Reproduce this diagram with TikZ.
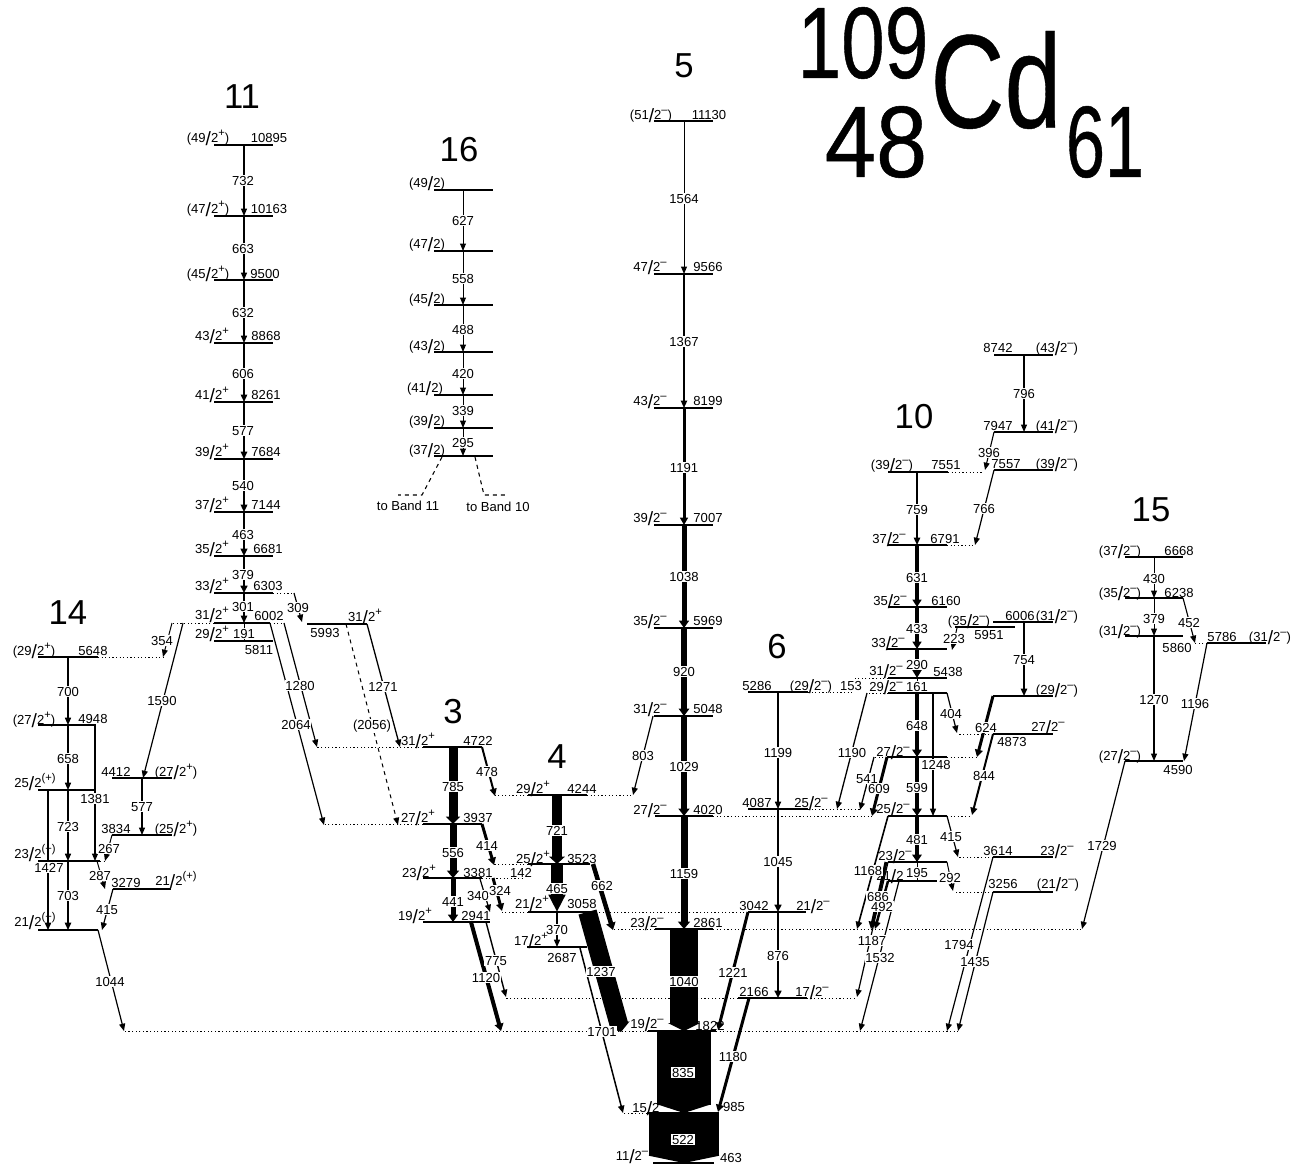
\documentclass[tikz,border=0pt]{standalone}
\usepackage{fontspec}
\setmainfont{Liberation Sans}
\usetikzlibrary{arrows.meta}
\pgfdeclarelayer{labs}\pgfsetlayers{main,labs}
\newcount\nn
\newcommand\sla{\raisebox{-0.27em}{\Large /}}
\newcommand\spr[1]{\raisebox{0.42em}{\fontsize{8.4}{9}\selectfont #1}}
\newcommand\Sp[2]{#1\sla 2\spr{#2}}
\newcommand\Pp[2]{(#1\sla 2\spr{#2})}
\newcommand\mn{--}
\tikzset{
 lvl/.style={line width=0.8pt},
 dotline/.style={line width=0.7pt,dash pattern=on 0.9pt off 1.8pt},
 ar/.style={line width=#1*0.75pt,-{Triangle[length=5.5pt,width=3.6pt 1]}},
 tline/.style={line width=#1*0.75pt},
 tt/.style={font=\fontsize{9.8}{10}\selectfont,inner sep=0pt,anchor=base},
 lab/.style={font=\fontsize{9.8}{10}\selectfont,inner sep=0.6pt,anchor=base,fill=white},
 bandno/.style={font=\fontsize{26}{28}\selectfont,inner sep=0pt},
}
% level: name x1 xc x2 y
\newcommand\lev[6][]{\coordinate (#2-l) at (#3,#6);\coordinate (#2-c) at (#4,#6);\coordinate (#2-r) at (#5,#6);\draw[lvl,#1] (#2-l)--(#2-r);}
\newcommand\pnt[3]{\coordinate (#1) at (#2,#3);}
\newcommand\ext[2]{\draw[dotline] (#1)--(#2);}
\newcommand\txt[3]{\global\advance\nn by 1 \node[tt] (t\the\nn) at (#1,#2+5) {#3};}
% transition: [extra] width from to label lx ly
\newcommand\tran[7][]{\draw[ar={#2},#1] (#3)--(#4);\global\advance\nn by 1 \begin{pgfonlayer}{labs}\node[lab] (t\the\nn) at (#6,#7+5) {#5};\end{pgfonlayer}}
\begin{document}
\begin{tikzpicture}[x=0.75pt,y=-0.75pt]
\useasboundingbox (0,0) rectangle (1301,1165);
% ---------- titles
\node[inner sep=0pt] (tA) at (863,43) {\scalebox{0.98}[1.27]{\fontsize{60}{64}\selectfont\addfontfeature{FakeBold=0.5}109}};
\node[inner sep=0pt] (tM) at (876,142) {\scalebox{1.15}[1.27]{\fontsize{60}{64}\selectfont\addfontfeature{FakeBold=0.5}48}};
\node[inner sep=0pt] (tC) at (996,80) {\scalebox{1}[1.3]{\fontsize{77}{80}\selectfont\addfontfeature{FakeBold=0.3}Cd}};
\node[inner sep=0pt] (tN) at (1105,142) {\scalebox{0.88}[1.27]{\fontsize{60}{64}\selectfont\addfontfeature{FakeBold=0.5}61}};
\node[bandno] (b11) at (242,97) {11};
\node[bandno] (b16) at (459,150) {16};
\node[bandno] (b5) at (684,66) {5};
\node[bandno] (b10) at (914,417) {10};
\node[bandno] (b15) at (1151,510) {15};
\node[bandno] (b14) at (68,613) {14};
\node[bandno] (b3) at (453,712) {3};
\node[bandno] (b4) at (557,757) {4};
\node[bandno] (b6) at (777,647) {6};
% ---------- levels
% band 11
\lev{a1}{214}{244}{273}{145}\lev{a2}{214}{244}{273}{216}\lev{a3}{214}{244}{273}{280}\lev{a4}{214}{244}{273}{343}
\lev{a5}{214}{244}{273}{402}\lev{a6}{214}{244}{273}{459}\lev{a7}{214}{244}{273}{512}\lev{a8}{214}{244}{273}{556}
\lev{a9}{214}{244}{273}{593}\lev{a10}{214}{244}{270}{623}\lev{a11}{214}{244}{273}{641}
\txt{208}{137}{\Pp{49}{+}}\txt{269}{137}{10895}
\txt{208}{208}{\Pp{47}{+}}\txt{269}{208}{10163}
\txt{208}{273}{\Pp{45}{+}}\txt{265}{273}{9500}
\txt{212}{335}{\Sp{43}{+}}\txt{266}{335}{8868}
\txt{212}{394}{\Sp{41}{+}}\txt{266}{394}{8261}
\txt{212}{451}{\Sp{39}{+}}\txt{266}{451}{7684}
\txt{212}{504}{\Sp{37}{+}}\txt{266}{504}{7144}
\txt{212}{548}{\Sp{35}{+}}\txt{268}{548}{6681}
\txt{212}{585}{\Sp{33}{+}}\txt{268}{585}{6303}
\txt{212}{614}{\Sp{31}{+}}\txt{269}{615}{6002}
\txt{212}{633}{\Sp{29}{+}}\txt{259}{649}{5811}
% side of band 11
\lev{s1}{307}{337}{367}{624}
\txt{365}{616}{\Sp{31}{+}}\txt{325}{632}{5993}
\pnt{p6303}{294}{593}\ext{a9-r}{p6303}
\pnt{p6002l}{172}{623}\pnt{p6002r}{284}{623}\ext{a10-l}{p6002l}\ext{a10-r}{p6002r}
% band 3
\lev{c1}{423}{453}{482}{747}\lev{c2}{423}{453}{482}{824}\lev{c3}{423}{453}{482}{878}\lev{c4}{423}{453}{490}{922}
\txt{418}{740}{\Sp{31}{+}}\txt{478}{740}{4722}
\txt{418}{817}{\Sp{27}{+}}\txt{478}{817}{3937}
\txt{419}{872}{\Sp{23}{+}}\txt{478}{872}{3381}
\txt{415}{915}{\Sp{19}{+}}\txt{476}{915}{2941}
\pnt{d1}{317}{747}\ext{c1-l}{d1}\pnt{d2}{324}{824}\ext{c2-l}{d2}\pnt{d3}{525}{878}\ext{c3-r}{d3}
% band 4
\lev{f1}{528}{557}{587}{795}\lev{f2}{528}{557}{590}{864}\lev{f3}{528}{557}{597}{912}\lev{f4}{527}{557}{587}{947}
\txt{533}{788}{\Sp{29}{+}}\txt{582}{788}{4244}
\txt{533}{858}{\Sp{25}{+}}\txt{582}{858}{3523}
\txt{532}{903}{\Sp{21}{+}}\txt{582}{903}{3058}
\txt{531}{940}{\Sp{17}{+}}\txt{562}{957}{2687}
\pnt{d4}{495}{795}\ext{f1-l}{d4}\pnt{d5}{633}{795}\ext{f1-r}{d5}\pnt{d6}{494}{864}\ext{f2-l}{d6}\pnt{d7}{502}{912}\ext{f3-l}{d7}
% band 5
\lev{e1}{654}{684}{713}{121}\lev{e2}{654}{684}{713}{274}\lev{e3}{654}{684}{713}{408}\lev{e4}{654}{684}{713}{525}
\lev{e5}{654}{684}{713}{628}\lev{e6}{654}{684}{713}{716}\lev{e7}{655}{684}{713}{816}\lev{e8}{655}{684}{713}{929}
\lev{e9}{648}{684}{716}{1031}\lev{e10}{647}{684}{719}{1113}\lev{e11}{653}{684}{714}{1163}
\txt{651}{114}{\Pp{51}{\mn}}\txt{709}{114}{11130}
\txt{650}{266}{\Sp{47}{\mn}}\txt{708}{266}{9566}
\txt{650}{400}{\Sp{43}{\mn}}\txt{708}{400}{8199}
\txt{650}{517}{\Sp{39}{\mn}}\txt{708}{517}{7007}
\txt{650}{620}{\Sp{35}{\mn}}\txt{708}{620}{5969}
\txt{650}{708}{\Sp{31}{\mn}}\txt{708}{708}{5048}
\txt{650}{809}{\Sp{27}{\mn}}\txt{708}{809}{4020}
\txt{647}{922}{\Sp{23}{\mn}}\txt{708}{922}{2861}
\txt{647}{1023}{\Sp{19}{\mn}}\txt{710}{1025}{1822}
\txt{649}{1107}{\Sp{15}{\mn}}\txt{734}{1106}{985}
\txt{632}{1155}{\Sp{11}{\mn}}\txt{731}{1157}{463}
\pnt{d8}{872}{816}\ext{e7-r}{d8}\pnt{d9}{613}{929}\ext{e8-l}{d9}\pnt{d10}{1082}{929}\ext{e8-r}{d10}
\pnt{d11}{124}{1031}\ext{e9-l}{d11}\pnt{d12}{960}{1031}\ext{e9-r}{d12}\pnt{d13}{623}{1113}\ext{e10-l}{d13}
% band 6
\lev{g1}{748}{778}{808}{692}\lev{g2}{748}{778}{808}{809}\lev{g3}{748}{778}{806}{912}\lev{g4}{738}{778}{807}{998}
\txt{757}{685}{5286}\txt{811}{685}{\Pp{29}{\mn}}
\txt{757}{802}{4087}\txt{811}{802}{\Sp{25}{\mn}}
\txt{754}{905}{3042}\txt{813}{905}{\Sp{21}{\mn}}
\txt{754}{991}{2166}\txt{812}{991}{\Sp{17}{\mn}}
\pnt{d14}{852}{692}\ext{g1-r}{d14}\pnt{d15}{860}{809}\ext{g2-r}{d15}\pnt{d16}{597}{912}\ext{g3-l}{d16}
\pnt{d17}{506}{998}\ext{g4-l}{d17}\pnt{d18}{857}{998}\ext{g4-r}{d18}
% band 10
\lev{h1}{888}{917}{948}{472}\lev{h2}{888}{917}{947}{545}\lev{h3}{888}{917}{947}{607}\lev{h4}{887}{917}{947}{649}
\lev{h5}{888}{917}{947}{678}\lev{h6}{888}{917}{947}{693}\lev{h7}{887}{917}{947}{757}\lev{h8}{888}{917}{947}{816}
\lev{h9}{888}{917}{947}{862}\lev[line width=1.1pt]{h10}{888}{917}{937}{881}
\txt{892}{464}{\Pp{39}{\mn}}\txt{946}{464}{7551}
\txt{889}{538}{\Sp{37}{\mn}}\txt{945}{538}{6791}
\txt{890}{600}{\Sp{35}{\mn}}\txt{946}{600}{6160}
\txt{888}{642}{\Sp{33}{\mn}}
\txt{886}{670}{\Sp{31}{\mn}}\txt{948}{671}{5438}
\txt{886}{686}{\Sp{29}{\mn}}
\txt{893}{751}{\Sp{27}{\mn}}
\txt{893}{808}{\Sp{25}{\mn}}
\txt{895}{855}{\Sp{23}{\mn}}
\txt{890}{875}{21\sla 2}
\pnt{d19}{983}{472}\ext{h1-r}{d19}\pnt{d20}{975}{545}\ext{h2-r}{d20}\pnt{d21}{855}{678}\ext{h5-l}{d21}
\pnt{d22}{867}{693}\ext{h6-l}{d22}\pnt{d23}{874}{757}\ext{h7-l}{d23}\pnt{d24}{978}{757}\ext{h7-r}{d24}\pnt{d25}{972}{816}\ext{h8-r}{d25}
% right of band 10
\lev{k1}{994}{1024}{1053}{355}\lev{k2}{994}{1024}{1053}{432}\lev{k3}{994}{1024}{1053}{470}
\txt{998}{347}{8742}\txt{1057}{347}{\Pp{43}{\mn}}
\txt{998}{425}{7947}\txt{1057}{425}{\Pp{41}{\mn}}
\txt{1006}{463}{7557}\txt{1057}{463}{\Pp{39}{\mn}}
\lev{m1}{955}{985}{1015}{627}\lev{m2}{993}{1024}{1053}{622}\lev[line width=1.6pt]{m3}{993}{1024}{1053}{696}
\lev{m4}{993}{1023}{1053}{734}\lev{m5}{993}{1023}{1053}{857}\lev{m6}{993}{1023}{1053}{892}
\txt{969}{620}{\Pp{35}{\mn}}\txt{989}{634}{5951}
\txt{1020}{615}{6006}\txt{1057}{615}{\Pp{31}{\mn}}
\txt{1057}{689}{\Pp{29}{\mn}}
\txt{1048}{726}{\Sp{27}{\mn}}\txt{1012}{741}{4873}
\txt{998}{850}{3614}\txt{1057}{850}{\Sp{23}{\mn}}
\txt{1003}{883}{3256}\txt{1058}{883}{\Pp{21}{\mn}}
\pnt{d26}{958}{734}\ext{m4-l}{d26}\pnt{d27}{958}{857}\ext{m5-l}{d27}\pnt{d28}{954}{892}\ext{m6-l}{d28}
% band 15
\lev{n1}{1125}{1154}{1183}{557}\lev{n2}{1125}{1154}{1183}{598}\lev{n3}{1125}{1154}{1183}{636}\lev{n4}{1125}{1154}{1183}{761}
\lev{n5}{1207}{1236}{1266}{643}
\txt{1120}{550}{\Pp{37}{\mn}}\txt{1179}{550}{6668}
\txt{1120}{592}{\Pp{35}{\mn}}\txt{1179}{592}{6238}
\txt{1120}{630}{\Pp{31}{\mn}}\txt{1177}{647}{5860}
\txt{1120}{755}{\Pp{27}{\mn}}\txt{1178}{769}{4590}
\txt{1222}{636}{5786}\txt{1270}{636}{\Pp{31}{\mn}}
\pnt{d29}{1195}{643}\ext{n5-l}{d29}
% band 16
\lev{q1}{434}{463}{493}{190}\lev{q2}{434}{463}{493}{251}\lev{q3}{434}{463}{493}{305}\lev{q4}{434}{463}{493}{352}
\lev{q5}{434}{463}{493}{395}\lev{q6}{434}{463}{493}{428}\lev{q7}{434}{463}{493}{456}
\txt{427}{182}{(49\sla 2)}\txt{427}{243}{(47\sla 2)}\txt{427}{298}{(45\sla 2)}\txt{427}{345}{(43\sla 2)}
\txt{425}{387}{(41\sla 2)}\txt{427}{420}{(39\sla 2)}\txt{427}{449}{(37\sla 2)}
\txt{408}{505}{to Band 11}\txt{498}{506}{to Band 10}
\pnt{r1}{442}{457}\pnt{r2}{422}{495}\pnt{r3}{398}{495}
\pnt{r4}{475}{457}\pnt{r5}{484}{495}\pnt{r6}{505}{495}
\draw[dashed,lvl] (r1)--(r2)--(r3);\draw[dashed,lvl] (r4)--(r5)--(r6);
% band 14
\lev{u1}{38}{68}{98}{657}\lev{u2}{38}{68}{96}{725}\lev{u3}{38}{68}{96}{790}\lev{u4}{38}{68}{100}{861}\lev[line width=1.4pt]{u5}{38}{68}{98}{930}
\txt{34}{650}{\Pp{29}{+}}\txt{93}{650}{5648}
\txt{34}{719}{\Pp{27}{+}}\txt{93}{718}{4948}
\txt{35}{782}{\Sp{25}{(+)}}
\txt{35}{853}{\Sp{23}{(+)}}
\txt{35}{921}{\Sp{21}{(+)}}
\lev{v1}{112}{142}{172}{778}\lev{v2}{112}{142}{172}{835}\lev{v3}{113}{142}{171}{889}
\txt{116}{771}{4412}\txt{176}{771}{\Pp{27}{+}}
\txt{116}{828}{3834}\txt{176}{828}{\Pp{25}{+}}
\txt{126}{882}{3279}\txt{176}{880}{\Sp{21}{(+)}}
\pnt{d30}{163}{657}\ext{u1-r}{d30}\pnt{d31}{105}{861}\ext{u4-r}{d31}\pnt{d32}{110}{889}\ext{v3-l}{d32}
% ---------- transitions, band 11
\tran{1.1}{a1-c}{a2-c}{732}{243}{180}
\tran{1.2}{a2-c}{a3-c}{663}{243}{248}
\tran{1.3}{a3-c}{a4-c}{632}{243}{312}
\tran{1.5}{a4-c}{a5-c}{606}{243}{373}
\tran{1.6}{a5-c}{a6-c}{577}{243}{430}
\tran{1.7}{a6-c}{a7-c}{540}{243}{485}
\tran{1.8}{a7-c}{a8-c}{463}{243}{534}
\tran{2}{a8-c}{a9-c}{379}{243}{574}
\tran{1.5}{a9-c}{a10-c}{301}{243}{606}
\draw[tline=1] (a10-c)--(a11-c);\begin{pgfonlayer}{labs}\node[lab] (l191) at (244,638) {191};\end{pgfonlayer}
\pnt{x309}{302}{622}\tran{1.2}{p6303}{x309}{309}{298}{607}
\pnt{x354}{163}{657}\pnt{x354a}{172}{623}\tran{1}{x354a}{x354}{354}{162}{640}
\pnt{x1590a}{183}{623}\pnt{x1590}{143}{778}\tran{1.2}{x1590a}{x1590}{1590}{162}{700}
\pnt{x1280}{317}{747}\tran{1.2}{p6002r}{x1280}{1280}{300}{685}
\pnt{x2064}{324}{825}\pnt{x2064a}{270}{623}\tran{1.2}{x2064a}{x2064}{2064}{296}{724}
\pnt{x1271}{400}{747}\tran{1.3}{s1-r}{x1271}{1271}{383}{686}
\pnt{x2056a}{346}{624}\pnt{x2056}{398}{825}\tran[dashed]{1}{x2056a}{x2056}{(2056)}{372}{724}
% band 14
\tran{1.3}{u1-c}{u2-c}{700}{68}{691}
\tran{1.3}{u2-c}{u3-c}{658}{68}{758}
\tran{1.3}{u3-c}{u4-c}{723}{68}{826}
\tran{1.5}{u4-c}{u5-c}{703}{68}{895}
\pnt{x1427a}{48}{790}\pnt{x1427}{48}{930}\tran{1.5}{x1427a}{x1427}{1427}{49}{867}
\pnt{x1381}{95}{861}\pnt{x1381a}{95}{725}\tran{1.1}{x1381a}{x1381}{1381}{95}{798}
\tran{1.1}{v1-c}{v2-c}{577}{142}{806}
\pnt{x267}{105}{861}\tran{1}{v2-l}{x267}{267}{109}{848}
\pnt{x287a}{97}{861}\pnt{x287}{105}{889}\tran{1}{x287a}{x287}{287}{100}{875}
\pnt{x415}{102}{930}\tran{1.2}{v3-l}{x415}{415}{107}{909}
\pnt{x1044}{124}{1031}\tran{1.2}{u5-r}{x1044}{1044}{110}{981}
% band 16
\tran{1}{q1-c}{q2-c}{627}{463}{220}
\tran{1}{q2-c}{q3-c}{558}{463}{278}
\tran{1}{q3-c}{q4-c}{488}{463}{329}
\tran{1}{q4-c}{q5-c}{420}{463}{373}
\tran{1}{q5-c}{q6-c}{339}{463}{410}
\tran{1}{q6-c}{q7-c}{295}{463}{442}
% band 3
\tran{9}{c1-c}{c2-c}{785}{453}{786}
\tran{7}{c2-c}{c3-c}{556}{453}{852}
\tran{5}{c3-c}{c4-c}{441}{453}{901}
\pnt{x478}{495}{796}\tran{2}{c1-r}{x478}{478}{487}{771}
\pnt{x414}{494}{865}\tran{3}{c2-r}{x414}{414}{487}{845}
\pnt{x340a}{480}{879}\pnt{x340}{490}{912}\tran{1.2}{x340a}{x340}{340}{478}{895}
\pnt{x324a}{493}{878}\pnt{x324}{502}{911}\tran{3}{x324a}{x324}{324}{500}{890}
\pnt{x775a}{486}{922}\pnt{x775}{506}{997}\tran{1.4}{x775a}{x775}{775}{496}{960}
\pnt{x1120a}{471}{922}\pnt{x1120}{501}{1031}\tran{4}{x1120a}{x1120}{1120}{486}{977}
\txt{521}{872}{142}
% band 4
\tran{10.5}{f1-c}{f2-c}{721}{557}{830}
\draw[line width=9.5pt,-{Triangle[length=13pt,width=12pt]}] (f2-c)--(f3-c);
\begin{pgfonlayer}{labs}\node[lab] (l465) at (557,893) {465};\end{pgfonlayer}
\tran{1.2}{f3-c}{f4-c}{370}{557}{929}
\pnt{x803a}{653}{716}\pnt{x803}{633}{795}\tran{1.2}{x803a}{x803}{803}{643}{755}
\pnt{x662a}{593}{864}\pnt{x662}{613}{930}\tran{4.5}{x662a}{x662}{662}{602}{885}
\pnt{x1237a}{587.5}{912}\pnt{x1237}{621}{1032}\draw[line width=14pt,-{Triangle[length=6pt,width=2.5pt 1]}] (x1237a)--(x1237);
\begin{pgfonlayer}{labs}\node[lab] (l1237) at (601,976) {1237};\end{pgfonlayer}
\pnt{x1701a}{580}{948}\pnt{x1701}{623}{1113}\tran{1.5}{x1701a}{x1701}{1701}{602}{1031}
\pnt{x1221}{718}{1030}\tran{3}{g3-l}{x1221}{1221}{733}{972}
\pnt{x1180a}{749}{998}\pnt{x1180}{718}{1112}\tran{3}{x1180a}{x1180}{1180}{733}{1056}
% band 5
\tran{1}{e1-c}{e2-c}{1564}{684}{198}
\tran{1.4}{e2-c}{e3-c}{1367}{684}{341}
\tran{3}{e3-c}{e4-c}{1191}{684}{467}
\tran{5}{e4-c}{e5-c}{1038}{684}{576}
\tran{5.5}{e5-c}{e6-c}{920}{684}{671}
\tran{6}{e6-c}{e7-c}{1029}{684}{766}
\tran{7}{e7-c}{e8-c}{1159}{684}{873}
\draw[line width=21pt,-{Triangle[length=6pt,width=24pt]}] (e8-c)--(e9-c);
\draw[line width=40pt,-{Triangle[length=6.5pt,width=40pt]}] (e9-c)--(e10-c);
\draw[line width=53pt,-{Triangle[length=5.5pt,width=53pt]}] (e10-c)--(e11-c);
\begin{pgfonlayer}{labs}
\node[lab] (l1040) at (684,986) {1040};
\node[lab] (l835) at (683,1077) {835};
\node[lab] (l522) at (683,1144) {522};
\end{pgfonlayer}
% band 6
\tran{1.3}{g1-c}{g2-c}{1199}{778}{752}
\tran{2}{g2-c}{g3-c}{1045}{778}{861}
\tran{2}{g3-c}{g4-c}{876}{778}{955}
\txt{851}{685}{153}
\pnt{x1190a}{867}{693}\pnt{x1190}{837}{809}\tran{1.3}{x1190a}{x1190}{1190}{852}{752}
% band 10
\tran{1.5}{h1-c}{h2-c}{759}{917}{509}
\tran{4}{h2-c}{h3-c}{631}{917}{577}
\tran{4}{h3-c}{h4-c}{433}{917}{628}
\draw[line width=3pt,-{Triangle[length=8pt,width=9pt]}] (h4-c)--(h5-c);
\begin{pgfonlayer}{labs}\node[lab] (l290) at (917,669) {290};\end{pgfonlayer}
\draw[tline=1] (h5-c)--(h6-c);\begin{pgfonlayer}{labs}\node[lab] (l161) at (917,691) {161};\end{pgfonlayer}
\tran{4.5}{h6-c}{h7-c}{648}{917}{725}
\tran{4.5}{h7-c}{h8-c}{599}{917}{787}
\tran{4.5}{h8-c}{h9-c}{481}{917}{839}
\draw[tline=1] (h9-c)--(h10-c);\begin{pgfonlayer}{labs}\node[lab] (l195) at (917,877) {195};\end{pgfonlayer}
\pnt{x1248a}{933}{693}\pnt{x1248}{933}{816}\tran{1.2}{x1248a}{x1248}{1248}{936}{764}
\pnt{x223a}{957}{628}\pnt{x223}{952}{650}\tran{1}{x223a}{x223}{223}{954}{638}
\pnt{x404}{957}{733}\tran{1.2}{h6-r}{x404}{404}{951}{713}
\pnt{x415b}{958}{857}\tran{1.2}{h8-r}{x415b}{415}{951}{836}
\pnt{x292}{953}{891}\tran{1}{h9-r}{x292}{292}{950}{877}
\pnt{x541a}{874}{757}\pnt{x541}{860}{810}\tran{1.3}{x541a}{x541}{541}{867}{778}
\pnt{x609}{872}{816}\tran{3}{h7-l}{x609}{609}{879}{788}
\pnt{x1168}{857}{929}\tran{1.6}{h8-l}{x1168}{1168}{868}{870}
\pnt{x686a}{886}{862}\pnt{x686}{871}{929}\tran{3}{x686a}{x686}{686}{878}{896}
\pnt{x492}{875}{929}\tran{2.5}{h10-l}{x492}{492}{882}{906}
\pnt{x1187}{857}{997}\tran{1.2}{h9-l}{x1187}{1187}{872}{940}
\pnt{x1532a}{899}{881}\pnt{x1532}{860}{1031}\tran{1.2}{x1532a}{x1532}{1532}{880}{957}
% right of band 10
\tran{1.1}{k1-c}{k2-c}{796}{1024}{393}
\pnt{x396}{985}{470}\tran{1.1}{k2-l}{x396}{396}{989}{452}
\pnt{x766}{975}{545}\tran{1.2}{k3-l}{x766}{766}{984}{508}
\tran{1.5}{m2-c}{m3-c}{754}{1024}{659}
\pnt{x624}{977}{757}\tran{3}{m3-l}{x624}{624}{986}{727}
\pnt{x844}{972}{815}\tran{2}{m4-l}{x844}{844}{984}{775}
\pnt{x1794}{947}{1031}\tran{1.2}{m5-l}{x1794}{1794}{959}{944}
\pnt{x1435}{958}{1031}\tran{1.2}{m6-l}{x1435}{1435}{975}{961}
% band 15
\tran{1}{n1-c}{n2-c}{430}{1154}{578}
\tran{1}{n2-c}{n3-c}{379}{1154}{618}
\tran{1.1}{n3-c}{n4-c}{1270}{1154}{699}
\pnt{x452}{1195}{643}\tran{1.1}{n2-r}{x452}{452}{1189}{622}
\pnt{x1196}{1184}{761}\tran{1.2}{n5-l}{x1196}{1196}{1195}{703}
\pnt{x1729}{1082}{929}\tran{1.2}{n4-l}{x1729}{1729}{1102}{845}
\end{tikzpicture}
\end{document}
